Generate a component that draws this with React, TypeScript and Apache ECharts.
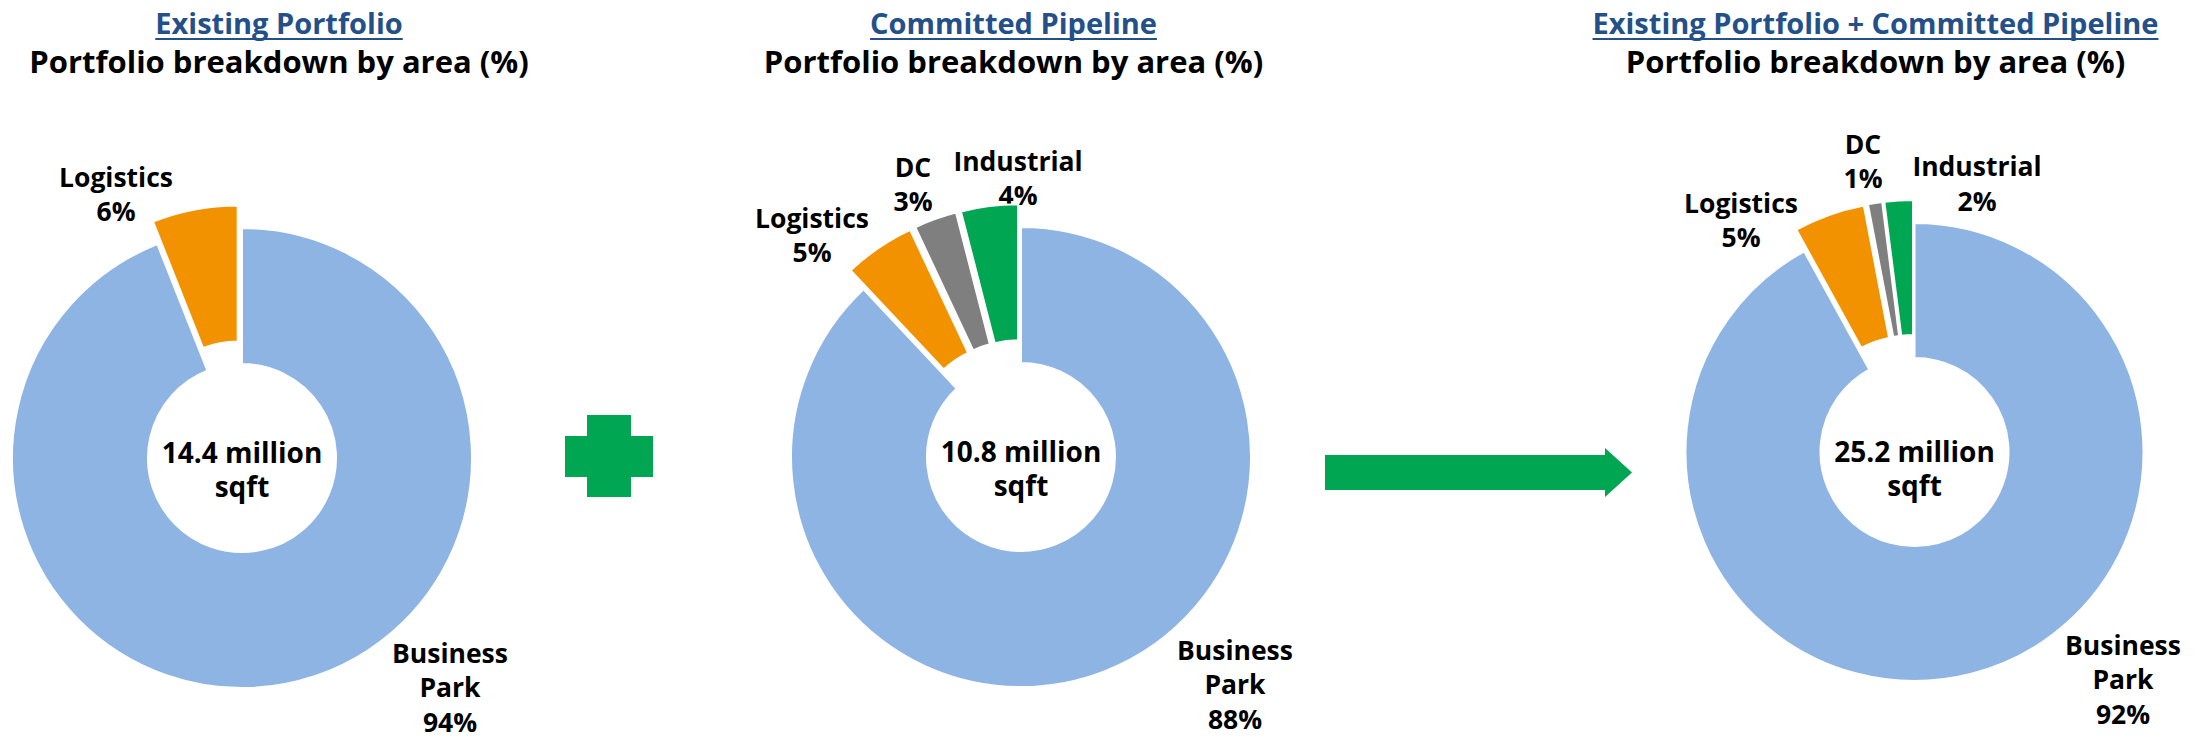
import React, { useEffect, useRef } from "react";
import * as echarts from "echarts";

// ---------- data ----------
const CATEGORIES = ["Business Park", "Logistics", "DC", "Industrial"];
const EXISTING = [94, 6];
const PIPELINE = [88, 5, 3, 4];
const COMBINED = [92, 5, 1, 2];
const TOTALS = ["14.4 million", "10.8 million", "25.2 million"];
const UNIT = "sqft";
const HEADINGS = [
  "Existing Portfolio",
  "Committed Pipeline",
  "Existing Portfolio + Committed Pipeline",
];
const SUBTITLE = "Portfolio breakdown by area (%)";

// ---------- styles / layout ----------
const COLORS = ["#8EB4E3", "#F39200", "#7F7F7F", "#00A651"];
const HEAD_COLOR = "#24508A";
const GREEN = "#00A651";
const FONT = "'Open Sans', sans-serif";
const PIES = [
  { cx: 242, cy: 458, r: 230 },
  { cx: 1021, cy: 457, r: 230 },
  { cx: 1914.5, cy: 452, r: 229 },
];
const INNER_RATIO = 0.41;
const HEAD_X = [279, 1013.5, 1875.5];
const CENTER_TEXT_Y = [469, 467.5, 467.5];
const LABEL_POS = [
  [[450, 687], [116, 194]],
  [[1235, 684], [812, 235], [913, 184], [1018, 178]],
  [[2123, 679], [1741, 220], [1863, 161], [1977, 183.5]],
];

function measure(text: string, font: string) {
  const c = document.createElement("canvas").getContext("2d");
  if (!c) return text.length * 14;
  c.font = font;
  return c.measureText(text).width;
}

export default function App() {
  const ref = useRef<HTMLDivElement>(null);
  useEffect(() => {
    if (!ref.current) return;
    const chart = echarts.init(ref.current, null, { renderer: "svg" });
    const datasets = [EXISTING, PIPELINE, COMBINED];

    const series = datasets.map((vals, si) => {
      const p = PIES[si];
      return {
        type: "pie",
        center: [p.cx, p.cy],
        radius: [Math.round(p.r * INNER_RATIO), p.r],
        startAngle: 90,
        clockwise: true,
        selectedMode: "multiple",
        selectedOffset: Math.round(p.r * 0.1),
        silent: true,
        emphasis: { disabled: true },
        itemStyle: { borderColor: "#ffffff", borderWidth: 2 },
        label: { show: false },
        labelLine: { show: false },
        data: vals.map((v, i) => ({
          name: CATEGORIES[i],
          value: v,
          selected: i > 0,
          itemStyle: { color: COLORS[i] },
        })),
      };
    });

    const headFont = `bold 29px ${FONT}`;
    const subFont = `bold 31px ${FONT}`;
    const labelFont = `bold 26.5px ${FONT}`;
    const graphics: any[] = [];
    HEADINGS.forEach((h, i) => {
      const w = measure(h, headFont);
      graphics.push({
        type: "text",
        x: HEAD_X[i],
        y: 22,
        style: {
          text: h,
          fill: HEAD_COLOR,
          font: headFont,
          align: "center",
          verticalAlign: "middle",
        },
      });
      graphics.push({
        type: "line",
        shape: { x1: HEAD_X[i] - w / 2, y1: 39, x2: HEAD_X[i] + w / 2, y2: 39 },
        style: { stroke: HEAD_COLOR, lineWidth: 2 },
      });
      graphics.push({
        type: "text",
        x: HEAD_X[i],
        y: 61,
        style: {
          text: SUBTITLE,
          fill: "#000",
          font: subFont,
          align: "center",
          verticalAlign: "middle",
        },
      });
      graphics.push({
        type: "text",
        x: PIES[i].cx,
        y: CENTER_TEXT_Y[i],
        style: {
          text: `${TOTALS[i]}\n${UNIT}`,
          fill: "#000",
          font: `bold 28px ${FONT}`,
          lineHeight: 34,
          align: "center",
          verticalAlign: "middle",
        },
      });
    });
    // slice labels
    datasets.forEach((vals, si) => {
      vals.forEach((v, i) => {
        const pos = LABEL_POS[si][i];
        graphics.push({
          type: "text",
          x: pos[0],
          y: pos[1],
          style: {
            text: `${CATEGORIES[i].replace(" ", "\n")}\n${v}%`,
            fill: "#000",
            font: labelFont,
            lineHeight: 34.5,
            align: "center",
            verticalAlign: "middle",
          },
        });
      });
    });
    // plus sign
    graphics.push({
      type: "rect",
      shape: { x: 565, y: 436, width: 88, height: 41 },
      style: { fill: GREEN },
    });
    graphics.push({
      type: "rect",
      shape: { x: 587, y: 415, width: 44, height: 82 },
      style: { fill: GREEN },
    });
    // arrow
    graphics.push({
      type: "polygon",
      shape: {
        points: [
          [1325, 455],
          [1605, 455],
          [1605, 448],
          [1632, 472.5],
          [1605, 497],
          [1605, 490],
          [1325, 490],
        ],
      },
      style: { fill: GREEN },
    });

    chart.setOption({
      animation: false,
      backgroundColor: "#ffffff",
      series,
      graphic: graphics,
    });
    return () => chart.dispose();
  }, []);
  return (
    <div
      ref={ref}
      style={{ position: "fixed", left: 0, top: 0, width: 2205, height: 738 }}
    />
  );
}
